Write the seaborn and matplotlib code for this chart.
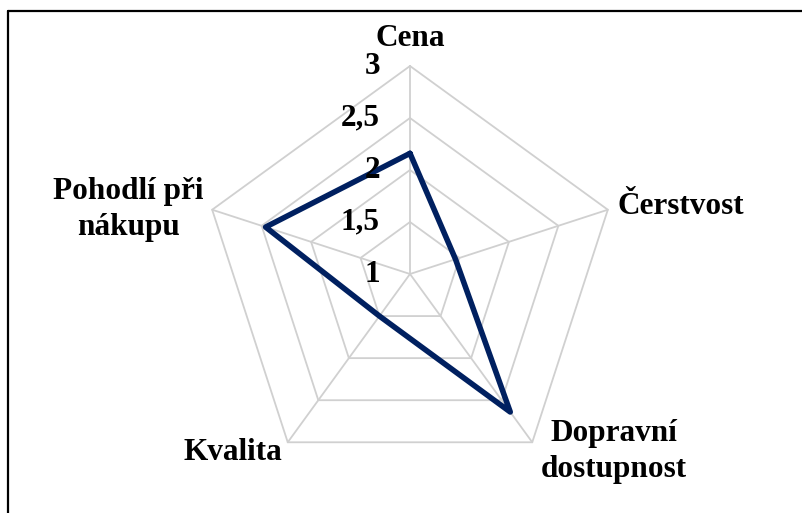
import numpy as np
import matplotlib
matplotlib.use("Agg")
import matplotlib.pyplot as plt
from matplotlib.lines import Line2D
import seaborn as sns

# ─────────────────────────────────────────
# DATA
# ─────────────────────────────────────────
categories = ["Cena", "Čerstvost", "Dopravní\ndostupnost", "Kvalita", "Pohodlí při\nnákupu"]
values = [2.16, 1.46, 2.64, 1.50, 2.46]
rings = [1, 1.5, 2, 2.5, 3]
ring_labels = ["1", "1,5", "2", "2,5", "3"]

W, H, DPI = 803, 513, 100
CX, CY, R = 410, 274, 208          # centre and outer radius in pixels
LINE_COLOR = "#002060"
GRID_COLOR = "#d0d0d0"

sns.set_theme(style="white")
plt.rcParams["font.family"] = ["Liberation Serif", "DejaVu Serif"]

fig = plt.figure(figsize=(W / DPI, H / DPI), dpi=DPI)
ax = fig.add_axes([(CX - R) / W, (H - CY - R) / H, 2 * R / W, 2 * R / H],
                  projection="polar")
ax.set_theta_zero_location("N")
ax.set_theta_direction(-1)
ax.set_ylim(rings[0], rings[-1])
ax.grid(False)
ax.set_xticks([])
ax.set_yticks([])
ax.spines["polar"].set_visible(False)
ax.patch.set_alpha(0)

n = len(categories)
theta = np.arange(n) * 2 * np.pi / n
theta_closed = np.append(theta, theta[0])

# polygon rings
for r in rings[1:]:
    ax.plot(theta_closed, [r] * (n + 1), color=GRID_COLOR, lw=1.3, clip_on=False, zorder=1)
# spokes
for t in theta:
    ax.plot([t, t], [rings[0], rings[-1]], color=GRID_COLOR, lw=1.3, clip_on=False, zorder=1)

# data series
sns.lineplot(x=theta_closed, y=np.append(values, values[0]), ax=ax, sort=False,
             color=LINE_COLOR, lw=4, estimator=None, clip_on=False, zorder=3)

# radial tick labels
for r, lab in zip(rings, ring_labels):
    ax.annotate(lab, xy=(0, r), xytext=(-30, 0), textcoords="offset pixels",
                ha="right", va="center", fontsize=22.5, fontweight="bold", color="black",
                annotation_clip=False)

# category labels
offsets = [(0, 28, "center"), (10, 3, "left"), (82, -9, "center"),
           (-5, -10, "right"), (-84, 0, "center")]
for t, lab, (dx, dy, ha) in zip(theta, categories, offsets):
    ax.annotate(lab, xy=(t, rings[-1]), xytext=(dx, dy), textcoords="offset pixels",
                ha=ha, va="center", fontsize=22.5, fontweight="bold", color="black",
                linespacing=1.32, annotation_clip=False)

# chart frame (only top and left edges visible)
fig.add_artist(Line2D([8 / W, 1], [1 - 10.5 / H, 1 - 10.5 / H], color="black", lw=1.6,
                      transform=fig.transFigure))
fig.add_artist(Line2D([8 / W, 8 / W], [0, 1 - 10.5 / H], color="black", lw=1.6,
                      transform=fig.transFigure))

fig.savefig("out.png", dpi=DPI)
